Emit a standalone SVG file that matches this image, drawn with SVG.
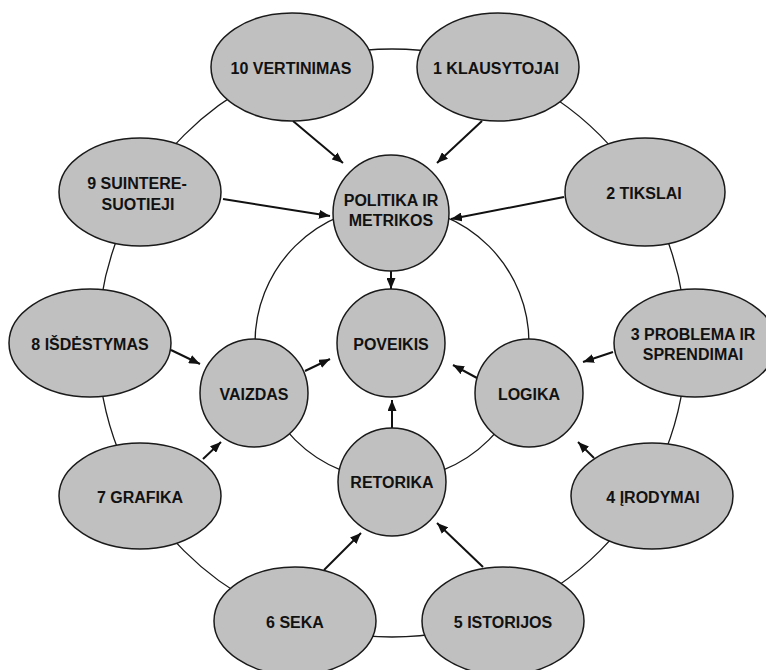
<svg xmlns="http://www.w3.org/2000/svg" width="766" height="670" viewBox="0 0 766 670">
<style>
.n{fill:#c0c0c0;stroke:#1a1a1a;stroke-width:1.5}
.t{font-family:"Liberation Sans",Arial,sans-serif;font-weight:bold;font-size:16px;fill:#111;text-anchor:middle}
.ring{fill:none;stroke:#1a1a1a;stroke-width:1.3}
.a{stroke:#111;stroke-width:2;fill:none;marker-end:url(#ah)}
</style>
<defs>
<marker id="ah" markerUnits="userSpaceOnUse" markerWidth="11" markerHeight="9" refX="11" refY="4.5" orient="auto">
<path d="M0,0 L11,4.5 L0,9 z" fill="#111"/>
</marker>
</defs>
<rect width="766" height="670" fill="#fff"/>
<g id="connectors">
<circle class="ring" cx="392" cy="343" r="294"/>
<circle class="ring" cx="392" cy="343" r="137"/>
<line class="a" x1="293" y1="121" x2="343" y2="163"/>
<line class="a" x1="482" y1="121" x2="437" y2="163"/>
<line class="a" x1="223" y1="199" x2="330" y2="216"/>
<line class="a" x1="564" y1="197" x2="451" y2="219"/>
<line class="a" x1="391" y1="271" x2="391" y2="289"/>
<line class="a" x1="613" y1="352" x2="583" y2="362"/>
<line class="a" x1="477" y1="378" x2="453" y2="365"/>
<line class="a" x1="171" y1="350" x2="200" y2="364"/>
<line class="a" x1="305" y1="371" x2="330" y2="359"/>
<line class="a" x1="203" y1="459" x2="221" y2="442"/>
<line class="a" x1="594" y1="458" x2="578" y2="442"/>
<line class="a" x1="392" y1="428" x2="392" y2="400"/>
<line class="a" x1="324" y1="570" x2="361" y2="533"/>
<line class="a" x1="483" y1="567" x2="437" y2="523"/>
</g>
<g id="n10"><ellipse class="n" cx="292" cy="67" rx="81" ry="54"/><text class="t" x="291" y="73.5">10 VERTINIMAS</text></g>
<g id="n1"><ellipse class="n" cx="498" cy="67" rx="81" ry="54"/><text class="t" x="496" y="73.5">1 KLAUSYTOJAI</text></g>
<g id="n2"><ellipse class="n" cx="645" cy="192" rx="80" ry="54"/><text class="t" x="644" y="199">2 TIKSLAI</text></g>
<g id="n3"><ellipse class="n" cx="695" cy="343" rx="81" ry="54"/><text class="t" x="693" y="340">3 PROBLEMA IR</text><text class="t" x="693" y="360">SPRENDIMAI</text></g>
<g id="n4"><ellipse class="n" cx="652" cy="496" rx="81" ry="53"/><text class="t" x="653" y="503">4 ĮRODYMAI</text></g>
<g id="n5"><ellipse class="n" cx="503" cy="621" rx="81" ry="54"/><text class="t" x="503" y="628">5 ISTORIJOS</text></g>
<g id="n6"><ellipse class="n" cx="295" cy="621" rx="81" ry="54"/><text class="t" x="295" y="628">6 SEKA</text></g>
<g id="n7"><ellipse class="n" cx="140" cy="496" rx="81" ry="53"/><text class="t" x="140" y="503">7 GRAFIKA</text></g>
<g id="n8"><ellipse class="n" cx="90" cy="343" rx="81" ry="54"/><text class="t" x="90" y="350">8 IŠDĖSTYMAS</text></g>
<g id="n9"><ellipse class="n" cx="140" cy="192" rx="81" ry="54"/><text class="t" x="137" y="189">9 SUINTERE-</text><text class="t" x="138" y="210">SUOTIEJI</text></g>
<g id="politika"><circle class="n" cx="391" cy="213" r="58"/><text class="t" x="391" y="206">POLITIKA IR</text><text class="t" x="391" y="226">METRIKOS</text></g>
<g id="poveikis"><circle class="n" cx="391" cy="343" r="54"/><text class="t" x="391" y="350">POVEIKIS</text></g>
<g id="vaizdas"><circle class="n" cx="254" cy="393" r="54"/><text class="t" x="254" y="400">VAIZDAS</text></g>
<g id="logika"><circle class="n" cx="529" cy="393" r="54"/><text class="t" x="529" y="400">LOGIKA</text></g>
<g id="retorika"><circle class="n" cx="392" cy="482" r="54"/><text class="t" x="392" y="488">RETORIKA</text></g>
</svg>
